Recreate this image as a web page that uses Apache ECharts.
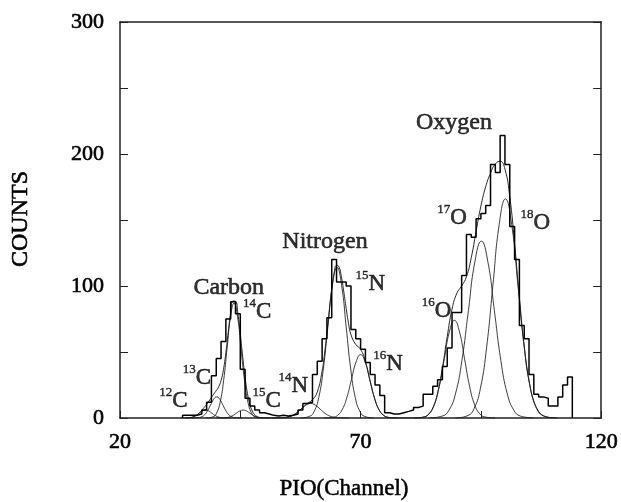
<!DOCTYPE html>
<html>
<head>
<meta charset="utf-8">
<script src="https://cdn.jsdelivr.net/npm/echarts@6/dist/echarts.min.js"></script>
<style>
html,body{margin:0;padding:0;background:#fff;}
#c{width:621px;height:502px;}
</style>
</head>
<body>
<div id="c"></div>
<script>
// ---- data ----
const xTicks = [20, 70, 120];
const yTicks = [0, 100, 200, 300];

// histogram: counts per channel, first bin starts at channel 33
const histStart = 33;
const histCounts = [
  2, 2, 2, 3, 6, 12, 32, 45, 58, 75, 88, 79, 37, 15, 9, 6, 4, 3, 2, 1.5,   // 33-52
  2, 1.5, 2, 3, 6, 11, 12, 33, 43, 60, 76, 120, 103, 103, 100, 67, 60, 52, 42, 33, // 53-72
  25, 17, 4, 3, 3, 4, 5, 6, 8, 9, 18, 18, 24, 29, 39, 53, 80, 80, 108, 139, // 73-92
  137, 151, 155, 161, 192, 186, 214, 192, 145, 120, 70, 60, 33, 18, 16, 15, 9, 9, 16, 25, // 93-112
  31 // 113
];

// fitted component curves [channel, counts]
const fit12C = [[32.6,0],[33.9,0.07],[34.55,0.26],[35.2,0.81],[35.85,1.95],[36.5,3.64],[37.15,5.3],[37.8,6],[38.45,5.3],[39.1,3.64],[39.75,1.95],[40.4,0.81],[41.05,0.26],[41.7,0.07],[43.0,0]];
const fit13C = [[34.9,0],[36.2,0.18],[36.85,0.7],[37.5,2.16],[38.15,5.2],[38.8,9.7],[39.45,14.1],[40.1,16],[40.75,14.1],[41.4,9.7],[42.05,5.2],[42.7,2.16],[43.35,0.7],[44.0,0.18],[45.3,0]];
const fit14C = [[37.9,0],[39.35,0.97],[40.08,3.82],[40.8,11.77],[41.53,28.25],[42.25,52.77],[42.98,76.78],[43.7,87],[44.43,76.78],[45.15,52.77],[45.88,28.25],[46.6,11.77],[47.33,3.82],[48.05,0.97],[49.5,0]];
const fit15C = [[40.0,0],[41.4,0.07],[42.1,0.26],[42.8,0.81],[43.5,1.95],[44.2,3.64],[44.9,5.3],[45.6,6],[46.3,5.3],[47.0,3.64],[47.7,1.95],[48.4,0.81],[49.1,0.26],[49.8,0.07],[51.2,0]];
const fit14N = [[51.6,0],[53.6,0.12],[54.6,0.48],[55.6,1.49],[56.6,3.57],[57.6,6.67],[58.6,9.71],[59.6,11],[60.6,9.71],[61.6,6.67],[62.6,3.57],[63.6,1.49],[64.6,0.48],[65.6,0.12],[67.6,0]];
const fit15N = [[57.5,0],[59.4,1.27],[60.35,5.0],[61.3,15.4],[62.25,37.0],[63.2,69.1],[64.15,100.6],[65.1,114],[66.05,100.6],[67.0,69.1],[67.95,37.0],[68.9,15.4],[69.85,5.0],[70.8,1.27],[72.7,0]];
const fit16N = [[62.4,0],[64.3,0.53],[65.25,2.1],[66.2,6.5],[67.15,15.6],[68.1,29.1],[69.05,42.4],[70,48],[70.95,42.4],[71.9,29.1],[72.85,15.6],[73.8,6.5],[74.75,2.1],[75.7,0.53],[77.6,0]];
const fit16O = [[81.1,0],[83.2,0.82],[84.25,3.25],[85.3,10.0],[86.35,24.0],[87.4,44.9],[88.45,65.3],[89.5,74],[90.55,65.3],[91.6,44.9],[92.65,24.0],[93.7,10.0],[94.75,3.25],[95.8,0.82],[97.9,0]];
const fit17O = [[84.3,0],[87.0,1.49],[88.35,5.88],[89.7,18.1],[91.05,43.5],[92.4,81.3],[93.75,118.3],[95.1,134],[96.45,118.3],[97.8,81.3],[99.15,43.5],[100.5,18.1],[101.85,5.88],[103.2,1.49],[105.9,0]];
const fit18O = [[89.7,0],[92.3,1.84],[93.6,7.29],[94.9,22.5],[96.2,53.9],[97.5,100.7],[98.8,146.5],[100.1,166],[101.4,146.5],[102.7,100.7],[104.0,53.9],[105.3,22.5],[106.6,7.29],[107.9,1.84],[110.5,0]];

// total fit (sum of the components)
const fitTotal = [[33.5,0.03],[34,0.08],[34.5,0.24],[35,0.6],[35.5,1.28],[36,2.41],[36.5,3.99],[37,5.89],[37.5,8.02],[38,10.3],[38.5,12.83],[39,15.56],[39.5,18.24],[40,20.73],[40.5,23.58],[41,28.27],[41.5,36.66],[42,49.51],[42.5,65.21],[43,79.83],[43.5,88.64],[44,88.46],[44.5,79.16],[45,63.68],[45.5,46.26],[46,30.48],[46.5,18.37],[47,10.17],[47.5,5.2],[48,2.45],[48.5,1.06],[49,0.42],[49.5,0.15],[50,0.04],[51,0.01],[52,0.01],[53,0.05],[54,0.22],[55,0.78],[56,2.18],[57,4.73],[58,8.1],[59,11.18],[60,13.89],[61,19.72],[62,35.46],[62.5,48.56],[63,64.54],[63.5,81.74],[64,97.72],[64.5,109.74],[65,115.63],[65.5,114.54],[66,107.2],[66.5,95.73],[67,82.95],[67.5,71.53],[68,63.15],[69,55.65],[70,52.1],[71,42.71],[72,27.75],[73,13.82],[74,5.23],[75,1.5],[76,0.33],[77,0.05],[78,0.01],[80,0],[81,0.02],[82,0.13],[83,0.62],[84,2.43],[85,7.57],[86,18.92],[87,37.92],[88,61.57],[89,82.39],[90,94.52],[91,100.0],[92,107.04],[93,121.48],[94,141.37],[95,160.54],[96,175.25],[97,185.5],[98,192.5],[99,194.5],[100,188.5],[101,167.5],[102,132.22],[103,90.98],[104,54.49],[105,28.26],[106,12.69],[107,4.92],[108,1.64],[109,0.47],[110,0.12],[111,0.02]];

// annotation texts
const groupNames = ['Carbon', 'Nitrogen', 'Oxygen'];
const isoMass = ['12','13','14','15','14','15','16','16','17','18'];
const isoElem = ['C','C','C','C','N','N','N','O','O','O'];

// ---- layout (label anchors in data space) ----
const groupAnchors = [[42.6, 98.5], [62.6, 133.6], [89.4, 224]];
const isoAnchors = [[31.1,12.9],[36.0,30.3],[48.5,80],[50.5,12.9],[56.0,24.4],[72.0,101.4],[75.7,40.8],[85.8,80.8],[89.0,151.5],[106.3,148]];

const serif = 'Liberation Serif';
const thick = {textBorderColor: '#000', textBorderWidth: 0.6};

const histData = [[histStart, 0]];
histCounts.forEach((v, i) => histData.push([histStart + i, v]));
histData.push([histStart + histCounts.length, 0]);

const fits = [fit12C, fit13C, fit14C, fit15C, fit14N, fit15N, fit16N, fit16O, fit17O, fit18O];

const chart = echarts.init(document.getElementById('c'), null, {renderer: 'canvas', width: 621, height: 502});

const series = [];
fits.forEach((d) => series.push({
  type: 'line', data: d, smooth: 0.5, symbol: 'none', silent: true, z: 3,
  lineStyle: {color: '#1a1a1a', width: 0.85}
}));
series.push({
  type: 'line', data: fitTotal, smooth: 0.5, symbol: 'none', silent: true, z: 3,
  lineStyle: {color: '#1a1a1a', width: 0.95}
});
series.push({
  type: 'line', data: histData, step: 'end', symbol: 'none', silent: true, z: 4,
  lineStyle: {color: '#000', width: 1.5}
});
series.push({
  type: 'scatter', symbolSize: 1, silent: true, z: 6,
  itemStyle: {color: 'rgba(0,0,0,0)'},
  data: groupNames.map((n, i) => ({value: groupAnchors[i], name: n})),
  label: Object.assign({show: true, position: 'inside', formatter: p => p.name,
    fontFamily: serif, fontSize: 24, color: '#000'}, thick)
});
series.push({
  type: 'scatter', symbolSize: 1, silent: true, z: 6,
  itemStyle: {color: 'rgba(0,0,0,0)'},
  data: isoMass.map((m, i) => ({value: isoAnchors[i], name: '{s|' + m + '}{e|' + isoElem[i] + '}'})),
  label: {show: true, position: 'inside', formatter: p => p.name,
    rich: {
      s: Object.assign({fontFamily: serif, fontSize: 13, lineHeight: 13, verticalAlign: 'top', color: '#000'}, {textBorderColor: '#000', textBorderWidth: 0.4}),
      e: Object.assign({fontFamily: serif, fontSize: 23, lineHeight: 30, color: '#000'}, thick)
    }}
});

const axisLineStyle = {color: '#222', width: 1.5};
const tickStyle = {color: '#222', width: 1};

chart.setOption({
  animation: false,
  backgroundColor: '#fff',
  grid: {left: 120, right: 19, top: 22, bottom: 84, containLabel: false},
  xAxis: [{
    type: 'value', min: 20, max: 120, interval: 25, position: 'bottom',
    axisLine: {show: true, onZero: false, lineStyle: axisLineStyle},
    axisTick: {show: true, inside: true, length: 7, lineStyle: tickStyle},
    axisLabel: Object.assign({margin: 13, fontFamily: serif, fontSize: 22, color: '#000',
      formatter: v => xTicks.includes(v) ? String(v) : ''}, thick),
    splitLine: {show: false}
  }, {
    type: 'value', min: 20, max: 120, position: 'top',
    axisLine: {show: true, onZero: false, lineStyle: axisLineStyle},
    axisTick: {show: false}, axisLabel: {show: false}, splitLine: {show: false}
  }],
  yAxis: [{
    type: 'value', min: 0, max: 300, interval: 50, position: 'left',
    axisLine: {show: true, onZero: false, lineStyle: axisLineStyle},
    axisTick: {show: true, inside: true, length: 8, lineStyle: tickStyle},
    axisLabel: Object.assign({margin: 16, fontFamily: serif, fontSize: 22, color: '#000',
      formatter: v => yTicks.includes(v) ? String(v) : ''}, thick),
    splitLine: {show: false}
  }, {
    type: 'value', min: 0, max: 300, interval: 50, position: 'right',
    axisLine: {show: true, onZero: false, lineStyle: axisLineStyle},
    axisTick: {show: true, inside: true, length: 8, lineStyle: tickStyle},
    axisLabel: {show: false}, splitLine: {show: false}
  }],
  graphic: [
    {type: 'text', x: 21, y: 219, rotation: Math.PI / 2, silent: true,
      style: {text: 'COUNTS', font: '24px "Liberation Serif"', fill: '#000', stroke: '#000', lineWidth: 0.6, textAlign: 'center', textVerticalAlign: 'middle'}},
    {type: 'text', x: 344, y: 489, silent: true,
      style: {text: 'PIO(Channel)', font: '23px "Liberation Serif"', fill: '#000', stroke: '#000', lineWidth: 0.5, textAlign: 'center', textVerticalAlign: 'middle'}}
  ],
  series: series
});
</script>
</body>
</html>
